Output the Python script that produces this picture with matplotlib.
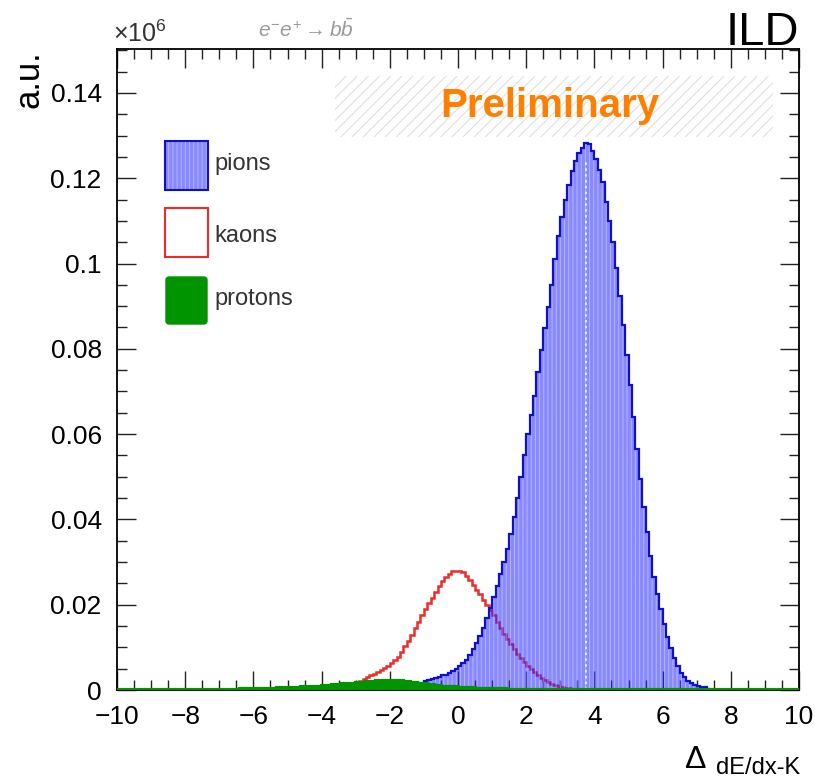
import numpy as np
import matplotlib
matplotlib.use("Agg")
import matplotlib.pyplot as plt
from matplotlib.patches import Rectangle, FancyBboxPatch
from matplotlib.ticker import MultipleLocator, FuncFormatter

plt.rcParams['font.family'] = ['Liberation Sans', 'DejaVu Sans']
plt.rcParams['mathtext.fontset'] = 'custom'
plt.rcParams['mathtext.rm'] = 'Liberation Sans'
plt.rcParams['mathtext.it'] = 'Liberation Sans:italic'
plt.rcParams['hatch.color'] = '#ffffff60'
plt.rcParams['hatch.linewidth'] = 0.7

# histogram binning (0.1 wide bins from -10 to 10)
bin_width = 0.1
x_range = (-10.0, 10.0)

# pions, first bin starts at -1.5
pion_start = -1.5
pions = [
    0.0006, 0.0008, 0.0010, 0.0013, 0.0016, 0.0020, 0.0023, 0.0026, 0.0029, 0.0031,
    0.0034, 0.0036, 0.0040, 0.0044, 0.0050, 0.0056, 0.0063, 0.0071, 0.0082, 0.0096,
    0.0111, 0.0127, 0.0146, 0.0168, 0.0193, 0.0219, 0.0245, 0.0272, 0.0300, 0.0331,
    0.0365, 0.0405, 0.0450, 0.0500, 0.0550, 0.0600, 0.0645, 0.0690, 0.0745, 0.0798,
    0.0848, 0.0898, 0.0950, 0.1010, 0.1065, 0.1110, 0.1150, 0.1185, 0.1218, 0.1240,
    0.1258, 0.1270, 0.1282, 0.1280, 0.1265, 0.1245, 0.1220, 0.1190, 0.1145, 0.1100,
    0.1050, 0.0990, 0.0925, 0.0855, 0.0785, 0.0715, 0.0640, 0.0565, 0.0495, 0.0430,
    0.0370, 0.0315, 0.0265, 0.0225, 0.0190, 0.0155, 0.0125, 0.0098, 0.0075, 0.0056,
    0.0041, 0.0031, 0.0022, 0.0016, 0.0012, 0.0009, 0.0007, 0.0006, 0.0003, 0.0000,
]

# kaons, first bin starts at -4.1
kaon_start = -4.1
kaons = [
    0.0002, 0.0003, 0.0003, 0.0004, 0.0005, 0.0006, 0.0007, 0.0009, 0.0011, 0.0013,
    0.0016, 0.0019, 0.0022, 0.0026, 0.0030, 0.0034, 0.0038, 0.0042, 0.0046, 0.0051,
    0.0057, 0.0063, 0.0070, 0.0078, 0.0090, 0.0103, 0.0116, 0.0130, 0.0145, 0.0160,
    0.0176, 0.0190, 0.0203, 0.0216, 0.0230, 0.0243, 0.0255, 0.0265, 0.0273, 0.0278,
    0.0280, 0.0280, 0.0276, 0.0268, 0.0258, 0.0247, 0.0235, 0.0224, 0.0212, 0.0200,
    0.0188, 0.0175, 0.0160, 0.0146, 0.0132, 0.0119, 0.0107, 0.0096, 0.0085, 0.0075,
    0.0066, 0.0057, 0.0049, 0.0042, 0.0035, 0.0029, 0.0023, 0.0018, 0.0014, 0.0011,
    0.0009, 0.0007, 0.0005, 0.0004, 0.0003, 0.0002,
]

# protons, first bin starts at -7.0
proton_start = -7.0
protons = [
    0.0001, 0.0001, 0.0001, 0.0001, 0.0001, 0.0001, 0.0002, 0.0002, 0.0002, 0.0002,
    0.0002, 0.0002, 0.0003, 0.0003, 0.0003, 0.0003, 0.0003, 0.0004, 0.0004, 0.0004,
    0.0004, 0.0005, 0.0005, 0.0005, 0.0006, 0.0006, 0.0007, 0.0007, 0.0008, 0.0008,
    0.0009, 0.0009, 0.0010, 0.0011, 0.0011, 0.0012, 0.0013, 0.0013, 0.0014, 0.0015,
    0.0016, 0.0016, 0.0017, 0.0018, 0.0019, 0.0019, 0.0020, 0.0021, 0.0021, 0.0022,
    0.0022, 0.0021, 0.0021, 0.0020, 0.0019, 0.0018, 0.0017, 0.0016, 0.0015, 0.0014,
    0.0013, 0.0012, 0.0011, 0.0010, 0.0009, 0.0008, 0.0008, 0.0007, 0.0006, 0.0006,
    0.0005, 0.0005, 0.0004, 0.0004, 0.0004, 0.0003, 0.0003, 0.0003, 0.0003, 0.0002,
    0.0002, 0.0002, 0.0002, 0.0002, 0.0001, 0.0001, 0.0001, 0.0001, 0.0001, 0.0001,
]

legend_names = ['pions', 'kaons', 'protons']
y_ticks = [0, 0.02, 0.04, 0.06, 0.08, 0.1, 0.12, 0.14]
x_ticks = [-10, -8, -6, -4, -2, 0, 2, 4, 6, 8, 10]

W, H = 815, 782
nbins = int(round((x_range[1] - x_range[0]) / bin_width))
edges = np.linspace(x_range[0], x_range[1], nbins + 1)


def full_hist(start, vals):
    h = np.zeros(nbins)
    i0 = int(round((start - x_range[0]) / bin_width))
    h[i0:i0 + len(vals)] = vals
    return h


def fx(px):
    return px / W


def fy(py):
    return 1 - py / H


h_pi = full_hist(pion_start, pions)
h_k = full_hist(kaon_start, kaons)
h_p = full_hist(proton_start, protons)

fig = plt.figure(figsize=(W / 100, H / 100), dpi=100)
ax = fig.add_axes([fx(117), fy(690), (799 - 117) / W, (690 - 49) / H])

red = '#ee2a2a'
blue_edge = '#1010c8'
green = '#009400'
pion_fill = (0.15, 0.15, 1.0, 0.55)

# kaons first so the semi-transparent pion fill tints them purple
ax.stairs(h_k, edges, color=red, linewidth=1.8, zorder=2)
ax.stairs(h_pi, edges, fill=True, facecolor=pion_fill, hatch='||||', zorder=3)
ax.stairs(h_pi, edges, color=blue_edge, linewidth=1.6, zorder=4)
ipk = int(np.argmax(h_pi))
ax.vlines((edges[ipk] + edges[ipk + 1]) / 2, 0, h_pi[ipk] * 0.97,
          colors='white', linestyles=(0, (1.5, 2)), linewidth=1.2, zorder=4)
ax.stairs(h_p, edges, fill=True, facecolor=green, zorder=5)
ax.stairs(h_p, edges, color=green, linewidth=3.0, zorder=6)

ax.set_xlim(*x_range)
ax.set_ylim(0, 0.1503)
ax.set_xticks(x_ticks)
ax.set_yticks(y_ticks)
ax.xaxis.set_minor_locator(MultipleLocator(0.5))
ax.yaxis.set_minor_locator(MultipleLocator(0.005))
ax.yaxis.set_major_formatter(FuncFormatter(lambda v, p: '%g' % v))
ax.tick_params(which='both', direction='in', top=True, right=True,
               width=1.0, color='#222222')
ax.tick_params(which='major', length=14)
ax.tick_params(which='minor', length=7)
ax.tick_params(axis='y', pad=11, labelsize=19)
ax.tick_params(axis='x', pad=11, labelsize=19)
for s in ax.spines.values():
    s.set_linewidth(1.3)

# "Preliminary" hatched band and label
fig.add_artist(Rectangle((fx(335), fy(137)), (773 - 335) / W, (137 - 76) / H,
                         transform=fig.transFigure, facecolor='none',
                         edgecolor='#dcdcdc', linewidth=0, hatch='///'))
fig.text(fx(440), fy(117), 'Preliminary', fontsize=29, fontweight='bold',
         color='#ff8000', va='baseline', ha='left')

# legend drawn by hand
bw, bh = (208 - 165) / W, 49 / H
fig.add_artist(Rectangle((fx(165), fy(190)), bw, bh, transform=fig.transFigure,
                         facecolor=pion_fill, hatch='||||', linewidth=0))
fig.add_artist(Rectangle((fx(165), fy(190)), bw, bh, transform=fig.transFigure,
                         facecolor='none', edgecolor=blue_edge, linewidth=1.5))
fig.add_artist(Rectangle((fx(165), fy(257)), bw, bh, transform=fig.transFigure,
                         facecolor='white', edgecolor=red, linewidth=1.5))
fig.add_artist(FancyBboxPatch((fx(166), fy(324)), bw - 2 / W, bh - 2 / H,
                              boxstyle='round,pad=0,rounding_size=0.004',
                              transform=fig.transFigure, facecolor=green,
                              edgecolor=green, linewidth=1.0))
for name, py in zip(legend_names, [164, 236, 299]):
    fig.text(fx(214), fy(py), name, fontsize=17, color='#333333',
             ha='left', va='center')

# titles and annotations
fig.text(fx(29), fy(50), 'a.u.', fontsize=25, rotation=90, ha='center', va='top')
fig.text(fx(113), fy(47), r'$\times$10$^{6}$', fontsize=18, color='#333333',
         ha='left', va='bottom')
fig.text(fx(258), fy(41), r'$e^{-}e^{+}\rightarrow b\bar{b}$', fontsize=15,
         color='#9a9a9a', ha='left', va='bottom')
fig.text(fx(799), fy(45), 'ILD', fontsize=34, ha='right', va='baseline')
fig.text(fx(685), fy(768), '\u0394', fontsize=23, ha='left', va='baseline')
fig.text(fx(800), fy(774), 'dE/dx-K', fontsize=17, ha='right', va='baseline')

fig.savefig('out.png', dpi=100)
